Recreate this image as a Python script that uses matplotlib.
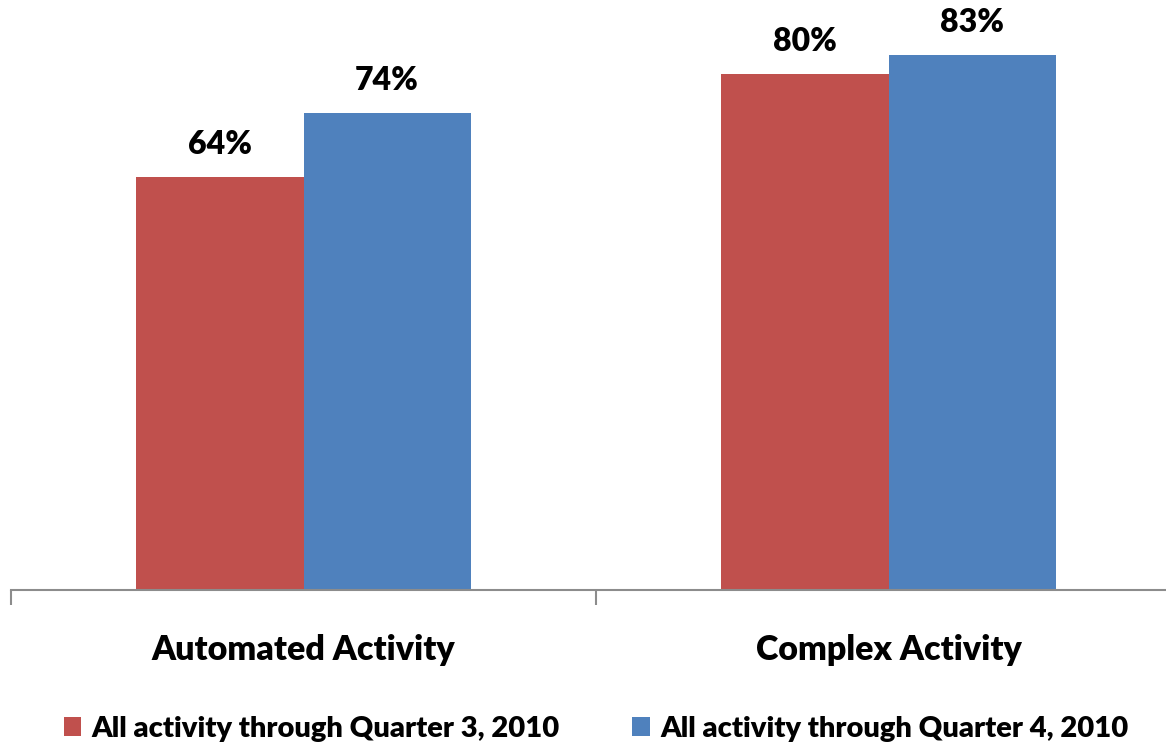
import numpy as np
import matplotlib.pyplot as plt

categories = ['Automated Activity', 'Complex Activity']
q3_values = [0.64, 0.80]
q4_values = [0.74, 0.83]
series_names = ['All activity through Quarter 3, 2010', 'All activity through Quarter 4, 2010']

red = '#C0504D'
blue = '#4F81BD'
font = 'Lato'
wt = 'heavy'

fig = plt.figure(figsize=(11.66, 7.42), dpi=100)
ax = fig.add_axes([11 / 1166, 152 / 742, 1170 / 1166, 580.5 / 742])

x = np.arange(len(categories))
w = 0.2855
b1 = ax.bar(x - w / 2, q3_values, w, color=red, label=series_names[0])
b2 = ax.bar(x + w / 2, q4_values, w, color=blue, label=series_names[1])

for bars, vals in [(b1, q3_values), (b2, q4_values)]:
    for rect, v in zip(bars, vals):
        ax.annotate(f'{v:.0%}', (rect.get_x() + rect.get_width() / 2, v),
                    xytext=(0, 13), textcoords='offset points',
                    ha='center', va='bottom', fontsize=23, fontweight=wt,
                    family=font, color='black')

ax.set_xlim(-0.5, 1.5)
ax.set_ylim(0, 0.9)
ax.set_yticks([])
for s in ['top', 'right', 'left']:
    ax.spines[s].set_visible(False)
ax.spines['bottom'].set_color('#8c8c8c')
ax.spines['bottom'].set_linewidth(1.5)

ax.set_xticks(x)
ax.set_xticklabels(categories, fontsize=24.5, fontweight=wt, family=font)
ax.tick_params(axis='x', which='major', length=0, pad=32)
ax.set_xticks([-0.5, 0.5, 1.5], minor=True)
ax.tick_params(axis='x', which='minor', length=11, width=1.5, color='#8c8c8c', direction='out')

leg = fig.legend(handles=[b1, b2], labels=series_names, loc='center', bbox_to_anchor=(596 / 1166, 1 - 729 / 742),
                 ncol=2, frameon=False, prop={'family': font, 'weight': wt, 'size': 21},
                 handlelength=0.6, handleheight=0.6, handletextpad=0.35, columnspacing=2.5)

fig.savefig('out.png', dpi=100)
